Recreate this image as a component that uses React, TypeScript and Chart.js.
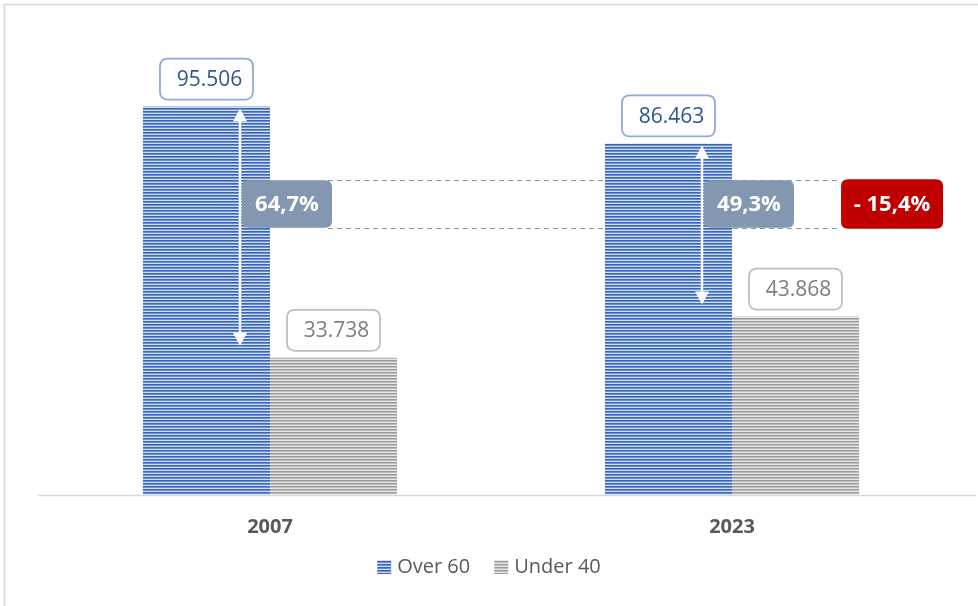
import React, { useEffect, useRef } from "react";
import { Chart, registerables } from "chart.js";
Chart.register(...registerables);

const categories = ["2007", "2023"];
const seriesLabels = ["Over 60", "Under 40"];
const over60 = [95506, 86463];
const under40 = [33738, 43868];
// guide band levels (data units) for the share boxes
const shareBand = [77400, 65700];
const yMax = 120000;

const FONT = "'Open Sans', 'Noto Sans', sans-serif";

function fmtThousands(v: number) {
  return String(v).replace(/\B(?=(\d{3})+(?!\d))/g, ".");
}
function fmtPct(v: number) {
  return v.toFixed(1).replace(".", ",");
}

function makePattern(colors: string[]) {
  const c = document.createElement("canvas");
  c.width = 4;
  c.height = colors.length;
  const g = c.getContext("2d")!;
  colors.forEach((col, i) => {
    g.fillStyle = col;
    g.fillRect(0, i, 4, 1);
  });
  return g.createPattern(c, "repeat")!;
}

function roundRect(ctx: CanvasRenderingContext2D, x: number, y: number, w: number, h: number, r: number) {
  ctx.beginPath();
  ctx.moveTo(x + r, y);
  ctx.lineTo(x + w - r, y);
  ctx.quadraticCurveTo(x + w, y, x + w, y + r);
  ctx.lineTo(x + w, y + h - r);
  ctx.quadraticCurveTo(x + w, y + h, x + w - r, y + h);
  ctx.lineTo(x + r, y + h);
  ctx.quadraticCurveTo(x, y + h, x, y + h - r);
  ctx.lineTo(x, y + r);
  ctx.quadraticCurveTo(x, y, x + r, y);
  ctx.closePath();
}

function arrow(ctx: CanvasRenderingContext2D, x: number, y1: number, y2: number) {
  const hh = 13, hw = 7;
  ctx.save();
  ctx.strokeStyle = "#ffffff";
  ctx.fillStyle = "#ffffff";
  ctx.lineWidth = 2.5;
  ctx.beginPath();
  ctx.moveTo(x, y1 + hh - 1);
  ctx.lineTo(x, y2 - hh + 1);
  ctx.stroke();
  ctx.beginPath();
  ctx.moveTo(x, y1);
  ctx.lineTo(x - hw, y1 + hh);
  ctx.lineTo(x + hw, y1 + hh);
  ctx.closePath();
  ctx.fill();
  ctx.beginPath();
  ctx.moveTo(x, y2);
  ctx.lineTo(x - hw, y2 - hh);
  ctx.lineTo(x + hw, y2 - hh);
  ctx.closePath();
  ctx.fill();
  ctx.restore();
}

const annot = {
  id: "annot",
  beforeDatasetsDraw(chart: any) {
    const ctx: CanvasRenderingContext2D = chart.ctx;
    const ys = chart.scales.y;
    const m0 = chart.getDatasetMeta(0).data;
    const m1 = chart.getDatasetMeta(1).data;
    ctx.save();
    ctx.strokeStyle = "#d9d9d9";
    ctx.lineWidth = 1.5;
    ctx.strokeRect(4.5, 4.5, chart.width + 20, chart.height + 20);
    const base = ys.getPixelForValue(0);
    ctx.beginPath();
    ctx.moveTo(chart.chartArea.left - 1, base + 0.5);
    ctx.lineTo(chart.width - 2, base + 0.5);
    ctx.strokeStyle = "#d9d9d9";
    ctx.lineWidth = 1.5;
    ctx.stroke();
    const b0 = m0[0];
    const arrowX0 = b0.x + b0.width / 2 - 30;
    const startX = arrowX0 + 2 + 90;
    const b1u = m1[1];
    const endX = b1u.x + b1u.width / 2 - 18;
    ctx.setLineDash([5, 4]);
    ctx.strokeStyle = "#8497B0";
    ctx.lineWidth = 1;
    shareBand.forEach((v) => {
      const py = Math.round(ys.getPixelForValue(v)) + 0.5;
      ctx.beginPath();
      ctx.moveTo(startX - 4, py);
      ctx.lineTo(endX, py);
      ctx.stroke();
    });
    ctx.restore();
  },
  afterDatasetsDraw(chart: any) {
    const ctx: CanvasRenderingContext2D = chart.ctx;
    const ys = chart.scales.y;
    const m0 = chart.getDatasetMeta(0).data;
    const m1 = chart.getDatasetMeta(1).data;
    const bandTop = ys.getPixelForValue(shareBand[0]);
    const bandBot = ys.getPixelForValue(shareBand[1]);
    const shares: number[] = [];
    ctx.save();
    for (let i = 0; i < categories.length; i++) {
      const bo = m0[i];
      const bu = m1[i];
      const labs = [
        { el: bo, v: over60[i], border: "#8FAADC", color: "#2F5597" },
        { el: bu, v: under40[i], border: "#BFBFBF", color: "#7F7F7F" },
      ];
      labs.forEach((l) => {
        const w = 93, h = 41;
        const x = l.el.x - w / 2;
        const y = l.el.y - 7 - h;
        roundRect(ctx, x, y, w, h, 8);
        ctx.fillStyle = "#ffffff";
        ctx.fill();
        ctx.strokeStyle = l.border;
        ctx.lineWidth = 1.8;
        ctx.stroke();
        ctx.fillStyle = l.color;
        ctx.font = `21px ${FONT}`;
        ctx.textAlign = "center";
        ctx.textBaseline = "middle";
        ctx.fillText(fmtThousands(l.v), l.el.x + 3, y + h / 2 + 1);
      });
      const ax = bo.x + bo.width / 2 - 30;
      arrow(ctx, ax, bo.y + 2, bu.y - 12);
      const share = (1 - under40[i] / over60[i]) * 100;
      shares.push(share);
      const bx = ax + 2, bw = 90;
      roundRect(ctx, bx, bandTop, bw, bandBot - bandTop, 7);
      ctx.fillStyle = "#8497B0";
      ctx.fill();
      ctx.fillStyle = "#ffffff";
      ctx.font = `bold 22px ${FONT}`;
      ctx.textAlign = "center";
      ctx.textBaseline = "middle";
      ctx.fillText(fmtPct(share) + "%", bx + bw / 2, (bandTop + bandBot) / 2 + 1);
    }
    const bu = m1[1];
    const rx = bu.x + bu.width / 2 - 18, rw = 102;
    roundRect(ctx, rx, bandTop - 1, rw, bandBot - bandTop + 2, 7);
    ctx.fillStyle = "#C00000";
    ctx.fill();
    ctx.fillStyle = "#ffffff";
    ctx.font = `bold 22px ${FONT}`;
    ctx.textAlign = "center";
    ctx.textBaseline = "middle";
    const diff = Math.round(shares[1] * 10) / 10 - Math.round(shares[0] * 10) / 10;
    ctx.fillText("- " + fmtPct(Math.abs(diff)) + "%", rx + rw / 2, (bandTop + bandBot) / 2 + 1);
    ctx.restore();
  },
  afterDraw(chart: any) {
    const ctx: CanvasRenderingContext2D = chart.ctx;
    ctx.save();
    ctx.font = `20px ${FONT}`;
    const box = 14, gapText = 6, gapItem = 24;
    const widths = seriesLabels.map((s) => ctx.measureText(s).width);
    const total = widths.reduce((a, w) => a + box + gapText + w, 0) + gapItem * (seriesLabels.length - 1);
    let x = chart.width / 2 - total / 2;
    const cy = 567;
    seriesLabels.forEach((s, i) => {
      ctx.fillStyle = chart.data.datasets[i].backgroundColor;
      ctx.fillRect(x, cy - box / 2, box, box);
      x += box + gapText;
      ctx.fillStyle = "#595959";
      ctx.textAlign = "left";
      ctx.textBaseline = "middle";
      ctx.fillText(s, x, cy);
      x += widths[i] + gapItem;
    });
    ctx.restore();
  },
};

export default function App() {
  const ref = useRef<HTMLCanvasElement>(null);
  useEffect(() => {
    const blue = makePattern(["#3A66BC", "#6A8ED2", "#D3DEF2"]);
    const gray = makePattern(["#9C9C9C", "#BDBDBD", "#E6E6E6"]);
    const chart = new Chart(ref.current!, {
      type: "bar",
      data: {
        labels: categories,
        datasets: [
          { label: seriesLabels[0], data: over60, backgroundColor: blue as any, borderWidth: 0, categoryPercentage: 0.55, barPercentage: 1 },
          { label: seriesLabels[1], data: under40, backgroundColor: gray as any, borderWidth: 0, categoryPercentage: 0.55, barPercentage: 1 },
        ],
      },
      options: {
        responsive: false,
        animation: false,
        layout: { padding: { left: 39, right: 15, top: 7, bottom: 55 } },
        scales: {
          x: {
            grid: { display: false },
            border: { display: false },
            ticks: { color: "#595959", font: { family: FONT, size: 20, weight: "bold" }, padding: 12 },
          },
          y: { display: false, min: 0, max: yMax },
        },
        plugins: {
          legend: { display: false },
          tooltip: { enabled: false },
        },
      },
      plugins: [annot],
    });
    return () => chart.destroy();
  }, []);
  return (
    <div style={{ position: "absolute", left: 0, top: 0, width: 978, height: 606, background: "#fff" }}>
      <canvas ref={ref} width={978} height={606} style={{ display: "block" }} />
    </div>
  );
}
